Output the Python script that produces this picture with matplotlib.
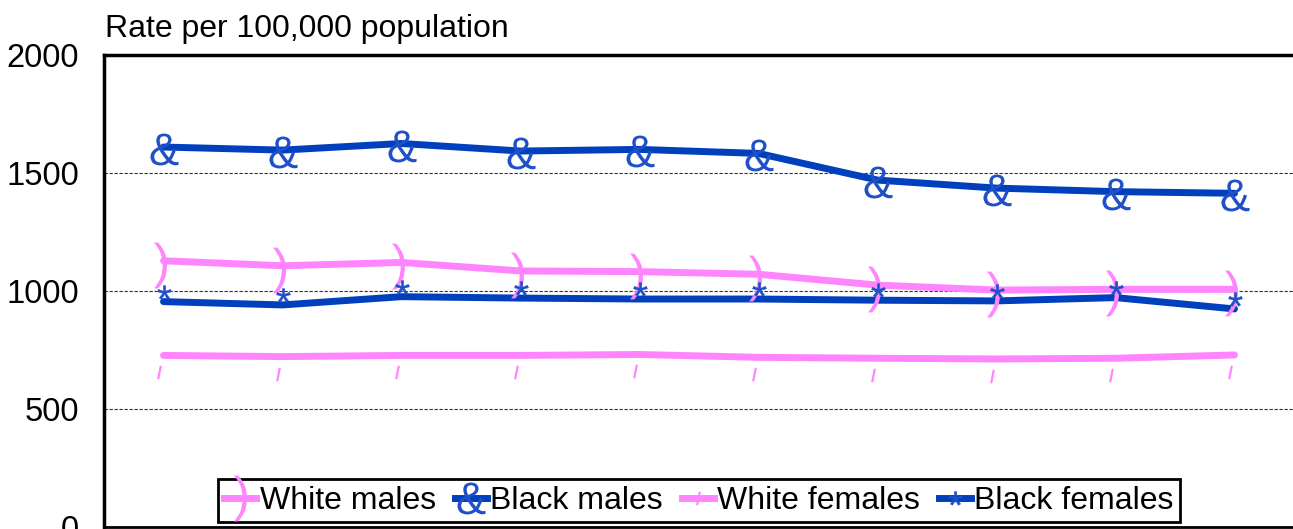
import matplotlib
matplotlib.use('Agg')
import matplotlib.pyplot as plt
from matplotlib.lines import Line2D
from matplotlib.path import Path
from matplotlib.textpath import TextPath
from matplotlib.font_manager import FontProperties
from matplotlib.transforms import ScaledTranslation

plt.rcParams['font.family'] = ['Liberation Sans', 'DejaVu Sans']

# Data
years = list(range(10))
white_males = [1128, 1107, 1121, 1085, 1082, 1071, 1025, 1004, 1007, 1007]
black_males = [1610, 1597, 1625, 1593, 1600, 1583, 1470, 1436, 1421, 1414]
white_females = [727, 722, 727, 727, 731, 719, 715, 712, 715, 729]
black_females = [955, 941, 976, 970, 966, 966, 961, 958, 972, 924]
labels = ['White males', 'Black males', 'White females', 'Black females']
yticks = [0, 500, 1000, 1500, 2000]

pink = '#FF85FF'
blue = '#0040BC'
mblue = '#1F50C8'


def glyph(ch, slant=0.0):
    # glyph outline centred on its bbox, used as a marker shape
    tp = TextPath((0, 0), ch, size=1, prop=FontProperties(family='Liberation Sans'))
    v = tp.vertices.copy()
    codes = tp.codes
    v[:, 0] = v[:, 0] + slant * v[:, 1]
    real = codes != Path.CLOSEPOLY
    x0, y0 = v[real].min(axis=0)
    x1, y1 = v[real].max(axis=0)
    v[:, 0] -= (x0 + x1) / 2
    v[:, 1] -= (y0 + y1) / 2
    v[~real] = 0
    return Path(v, codes)


fig = plt.figure(figsize=(12.93, 5.29), dpi=100)
ax = fig.add_axes([104 / 1293, 2 / 529, 1190 / 1293, 472 / 529])

# series: values, line colour, marker glyph, marker colour, size, edge, offset (px)
series = [
    (white_males, pink, glyph(')'), pink, 33, 0, (-3.5, -4)),
    (black_males, blue, glyph('&'), mblue, 23, 0, (0, -2)),
    (white_females, pink, glyph('|', 0.2), pink, 9, 0.8, (-5, -17)),
    (black_females, blue, glyph('*'), mblue, 10, 0.3, (0, 10)),
]

handles = []
for (vals, col, mk, mcol, ms, mew, off), lab in zip(series, labels):
    ax.plot(years, vals, color=col, lw=5, solid_capstyle='round',
            solid_joinstyle='round', zorder=3)
    tr = ax.transData + ScaledTranslation(off[0] / 100, off[1] / 100,
                                          fig.dpi_scale_trans)
    ax.plot(years, vals, linestyle='none', marker=mk, ms=ms, mfc=mcol,
            mec=mcol, mew=mew, transform=tr, zorder=4)
    handles.append(Line2D([0], [0], color=col, lw=5, marker=mk, ms=ms,
                          mfc=mcol, mec=mcol, mew=mew))

ax.set_xlim(-0.5, 9.5)
ax.set_ylim(0, 2000)
ax.set_xticks([])
ax.set_yticks(yticks)
ax.tick_params(axis='y', length=0, pad=18, labelsize=23.5)
for y in [500, 1000, 1500]:
    ax.axhline(y, color='#333333', lw=0.8, ls=(0, (3, 1.5)), zorder=1)

ax.spines['right'].set_visible(False)
ax.spines['left'].set_linewidth(2.5)
ax.spines['top'].set_linewidth(2.5)
ax.spines['bottom'].set_linewidth(2)

fig.text(105 / 1293, 1 - 37 / 529, 'Rate per 100,000 population',
         fontsize=23, va='baseline', ha='left')

leg = ax.legend(handles, labels, loc='lower center', ncol=4, fontsize=23,
                handlelength=1.0, handletextpad=0.1, columnspacing=0.6,
                borderpad=0.2, borderaxespad=0.15, fancybox=False,
                edgecolor='black', framealpha=1, numpoints=1)
leg.get_frame().set_linewidth(2)
leg.set_zorder(5)

fig.savefig('out.png', dpi=100)
